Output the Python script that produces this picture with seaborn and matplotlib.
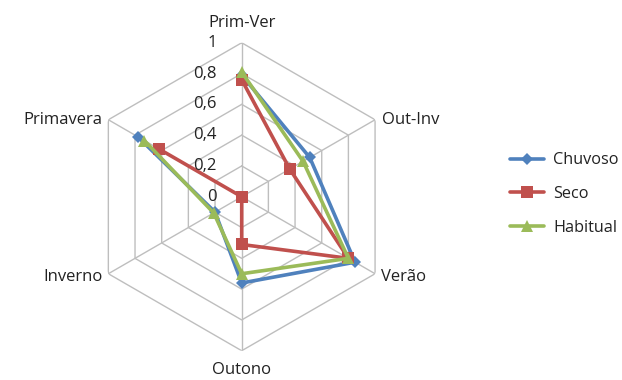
import numpy as np
import pandas as pd
import matplotlib
matplotlib.use("Agg")
import matplotlib.pyplot as plt
import seaborn as sns

# --- Dados ---
categorias = ["Prim-Ver", "Out-Inv", "Verão", "Outono", "Inverno", "Primavera"]
chuvoso = [0.79, 0.51, 0.85, 0.56, 0.20, 0.78]
seco = [0.76, 0.36, 0.80, 0.31, 0.00, 0.62]
habitual = [0.81, 0.46, 0.80, 0.50, 0.21, 0.73]
rticks = [0, 0.2, 0.4, 0.6, 0.8, 1]
rtick_labels = ["0", "0,2", "0,4", "0,6", "0,8", "1"]

series = {"Chuvoso": chuvoso, "Seco": seco, "Habitual": habitual}
cores = {"Chuvoso": "#4F81BD", "Seco": "#C0504D", "Habitual": "#9BBB59"}
marcadores = {"Chuvoso": "D", "Seco": "s", "Habitual": "^"}
tamanhos = {"Chuvoso": 6.5, "Seco": 8, "Habitual": 8.5}

sns.set_style("white")
plt.rcParams["font.family"] = ["Open Sans", "DejaVu Sans"]
fs = 12
cor_texto = "#222222"

n = len(categorias)
angulos = np.linspace(0, 2 * np.pi, n, endpoint=False)
ang_fechado = np.append(angulos, angulos[0])

fig = plt.figure(figsize=(6.22, 3.80), dpi=100)
ax = fig.add_axes([0.141, 0.077, 0.4952, 0.8105], projection="polar")
ax.set_theta_offset(np.pi / 2)
ax.set_theta_direction(-1)
ax.set_ylim(0, 1)
ax.grid(False)
ax.spines["polar"].set_visible(False)
ax.set_xticks([])
ax.set_yticks([])
ax.set_facecolor("none")

# grade hexagonal
grade = "#BEBEBE"
for r in rticks[1:]:
    ax.plot(ang_fechado, [r] * (n + 1), color=grade, lw=1, zorder=0)
for a in angulos:
    ax.plot([a, a], [0, 1], color=grade, lw=1, zorder=0)

# séries
for nome, valores in series.items():
    df = pd.DataFrame({"ang": ang_fechado, "valor": valores + valores[:1]})
    sns.lineplot(data=df, x="ang", y="valor", ax=ax, sort=False,
                 color=cores[nome], lw=2.6, marker=marcadores[nome],
                 markersize=tamanhos[nome], markeredgewidth=0,
                 label=nome, zorder=3)

ax.set_xlabel("")
ax.set_ylabel("")

# rótulos do eixo radial
for v, t in zip(rticks, rtick_labels):
    ax.annotate(t, xy=(0, v), xytext=(-18, 0), textcoords="offset points",
                ha="right", va="center", fontsize=fs, color=cor_texto)

# rótulos das categorias
offsets = [((0, 11), "center", "baseline"), ((5, 0), "left", "center"),
           ((4, -2), "left", "center"), ((0, -8), "center", "top"),
           ((-4, -2), "right", "center"), ((-4, 0), "right", "center")]
for a, cat, (off, ha, va) in zip(angulos, categorias, offsets):
    ax.annotate(cat, xy=(a, 1), xytext=off, textcoords="offset points",
                ha=ha, va=va, fontsize=fs, color=cor_texto)

ax.legend_.remove()
h, l = ax.get_legend_handles_labels()
fig.legend(h, l, loc="center left", bbox_to_anchor=(0.797, 0.489), frameon=False,
           fontsize=11.7, handlelength=2.1, labelspacing=1.1, handletextpad=0.55,
           labelcolor=cor_texto)

plt.savefig("out.png", dpi=100)
